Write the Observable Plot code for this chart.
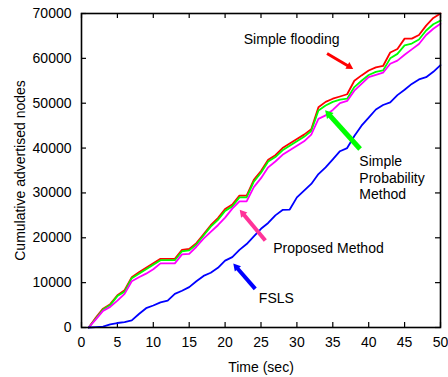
<!DOCTYPE html>
<html>
<head>
<meta charset="utf-8">
<script src="https://cdn.jsdelivr.net/npm/d3@7"></script>
<script src="https://cdn.jsdelivr.net/npm/@observablehq/plot@0.6"></script>
<style>
  html, body { margin: 0; padding: 0; background: #fff; }
  #chart svg { font-family: "Liberation Sans", Arial, Helvetica, sans-serif; }
</style>
</head>
<body>
<div id="chart"></div>
<script>
const time = [1,2,3,4,5,6,7,8,9,10,11,12,13,14,15,16,17,18,19,20,21,22,23,24,25,26,27,28,29,30,31,32,33,34,35,36,37,38,39,40,41,42,43,44,45,46,47,48,49,50];

const simpleFlooding = [0,2200,4200,5200,7200,8300,11200,12300,13300,14300,15300,15300,15300,17300,17500,18800,20800,22800,24400,26400,27400,29400,29400,32900,34900,37400,38400,40000,41000,42000,43000,44200,49100,50300,51000,51500,52000,55000,56200,57300,58000,58300,61300,62100,64400,64400,65200,67300,69000,70000];
const simpleProbability = [0,2000,4000,5000,7000,8000,11000,12000,13000,14000,15000,15000,15000,17000,17200,18500,20500,22500,24000,26000,27000,29000,29000,32500,34500,37000,38000,39500,40500,41500,42500,43800,48400,49500,50300,50800,51000,53600,55000,56300,57000,57300,60000,61000,62900,63300,64200,66200,67600,68400];
const proposedMethod = [0,1800,3700,4600,6000,7500,10300,11200,12000,13000,14300,14300,14300,16300,16400,18000,19800,21300,22800,24500,26500,28100,28100,31300,33300,35700,37000,38500,39500,40500,41500,43000,46500,47300,48500,50000,50500,52800,54300,55800,56300,56800,58800,59500,60800,62000,63200,65200,66600,67700];
const fsls = [0,100,200,700,1000,1200,1600,3000,4300,4900,5600,6000,7500,8200,9000,10300,11500,12200,13300,14900,15700,17300,18600,20300,22000,23300,25000,26200,26300,29000,30500,32000,34200,35700,37500,39300,40000,42700,45000,46800,48600,49600,50200,51800,53000,54300,55300,55800,57000,58500];

const seriesNames = ["Simple flooding", "Simple Probability Method", "Proposed Method", "FSLS"];
const seriesValues = [simpleFlooding, simpleProbability, proposedMethod, fsls];
const seriesColors = ["#ff0000", "#00ff00", "#ff00ff", "#0000ff"];

const xTicks = [0,5,10,15,20,25,30,35,40,45,50];
const yTicks = [0,10000,20000,30000,40000,50000,60000,70000];

// annotation arrows: tail (x1,y1) -> tip (x2,y2), in data units
const annotations = [
  {text: "Simple flooding", tx: 22.6, ty: 64400, color: "#ff0000", x1: 34.2, y1: 61100, x2: 38.1, y2: 57400, w: 3, head: 10},
  {text: "Simple\nProbability\nMethod", tx: 38.7, ty: 33500, color: "#00ff00", x1: 38.8, y1: 39800, x2: 33.6, y2: 49000, w: 5, head: 13},
  {text: "Proposed Method", tx: 26.7, ty: 17900, color: "#ff3399", x1: 25.6, y1: 19400, x2: 21.8, y2: 26700, w: 4, head: 11},
  {text: "FSLS", tx: 24.7, ty: 6750, color: "#0000ff", x1: 24.2, y1: 8600, x2: 20.9, y2: 14700, w: 4, head: 11}
];

const W = 448, H = 377, mL = 81, mR = 8, mT = 13, mB = 50;
const kx = (W - mL - mR) / 50, ky = (H - mT - mB) / 70000;

const rows = [];
seriesNames.forEach((name, i) => {
  time.forEach((t, j) => rows.push({series: name, t, v: seriesValues[i][j]}));
});

// arrow geometry (shaft + filled triangular head)
const shafts = [], heads = [];
annotations.forEach(a => {
  const dx = (a.x2 - a.x1) * kx, dy = -(a.y2 - a.y1) * ky;
  const L = Math.hypot(dx, dy), ux = dx / L, uy = dy / L;
  const angle = Math.atan2(dx, -dy) * 180 / Math.PI;
  const hh = a.head; // triangle height (px)
  const baseX = a.x2 - ux * hh * 0.8 / kx, baseY = a.y2 + uy * hh * 0.8 / ky;
  const cX = a.x2 - ux * hh * (2/3) / kx, cY = a.y2 + uy * hh * (2/3) / ky;
  shafts.push({x1: a.x1, y1: a.y1, x2: baseX, y2: baseY, color: a.color, w: a.w});
  const side = hh / (Math.sqrt(3) / 2);
  const area = Math.sqrt(3) / 4 * side * side;
  heads.push({x: cX, y: cY, color: a.color, rot: angle, r: Math.sqrt(area / Math.PI)});
});

const tickLenX = 5 / kx, tickLenY = 5 / ky;

const plot = Plot.plot({
  width: W, height: H,
  marginLeft: mL, marginRight: mR, marginTop: mT, marginBottom: mB,
  style: {fontFamily: "'Liberation Sans', Arial, Helvetica, sans-serif", fontSize: "14px", background: "#fff", color: "#000"},
  x: {domain: [0, 50]},
  y: {domain: [0, 70000]},
  marks: [
    Plot.axisX(xTicks, {tickSize: 0, tickPadding: 10, fontSize: 14, label: "Time (sec)", labelAnchor: "center", labelArrow: "none", labelOffset: 44}),
    Plot.axisY(yTicks, {tickSize: 0, tickPadding: 10, fontSize: 14, tickFormat: d3.format("d"), label: "Cumulative advertised nodes", labelAnchor: "center", labelArrow: "none", labelOffset: 66}),
    // inward ticks on all four sides
    Plot.ruleX(xTicks, {y1: 0, y2: tickLenY, stroke: "#000", strokeWidth: 1.2}),
    Plot.ruleX(xTicks, {y1: 70000, y2: 70000 - tickLenY, stroke: "#000", strokeWidth: 1.2}),
    Plot.ruleY(yTicks, {x1: 0, x2: tickLenX, stroke: "#000", strokeWidth: 1.2}),
    Plot.ruleY(yTicks, {x1: 50, x2: 50 - tickLenX, stroke: "#000", strokeWidth: 1.2}),
    Plot.lineY(rows, {x: "t", y: "v", z: "series", stroke: d => seriesColors[seriesNames.indexOf(d.series)], strokeWidth: 1.8}),
    Plot.link(shafts, {x1: "x1", y1: "y1", x2: "x2", y2: "y2", stroke: "color", strokeWidth: "w"}),
    Plot.dot(heads, {x: "x", y: "y", symbol: "triangle", fill: "color", stroke: "none", r: "r", rotate: "rot"}),
    Plot.text(annotations, {x: "tx", y: "ty", text: "text", textAnchor: "start", fontSize: 14, lineHeight: 1.18, fill: "#000"}),
    Plot.frame({stroke: "#000", strokeWidth: 1.6})
  ]
});
document.getElementById("chart").appendChild(plot);
</script>
</body>
</html>
